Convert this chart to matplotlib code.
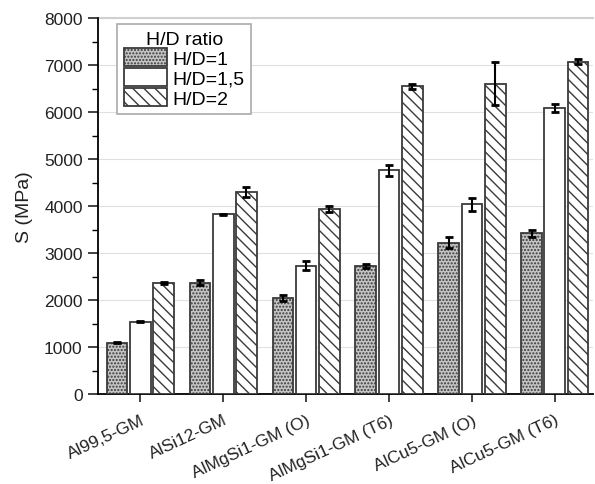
import matplotlib
matplotlib.use("Agg")
import matplotlib.pyplot as plt
import numpy as np

plt.rcParams['font.family'] = ['Liberation Sans', 'DejaVu Sans']

categories = ["Al99,5-GM", "AlSi12-GM", "AlMgSi1-GM (O)", "AlMgSi1-GM (T6)", "AlCu5-GM (O)", "AlCu5-GM (T6)"]
series_names = ["H/D=1", "H/D=1,5", "H/D=2"]
hd1 = [1090, 2370, 2040, 2720, 3220, 3420]
hd15 = [1540, 3820, 2730, 4760, 4040, 6080]
hd2 = [2370, 4300, 3940, 6550, 6600, 7070]
err1 = [15, 50, 60, 40, 110, 80]
err15 = [10, 20, 90, 120, 140, 80]
err2 = [20, 110, 60, 50, 460, 50]

fig = plt.figure(figsize=(5.95, 4.85), dpi=100)
ax = fig.add_axes([98/595, 1-395/485, (593-98)/595, (395-19)/485])

x = np.arange(len(categories))
w = 0.25
pitch = 0.28
styles = [
    dict(facecolor='#c4c4c4', hatch='.....'),
    dict(facecolor='white', hatch=None),
    dict(facecolor='white', hatch='\\\\\\'),
]
plt.rcParams['hatch.color'] = '#555555'
plt.rcParams['hatch.linewidth'] = 1.0
for i, (vals, errs, st, name) in enumerate(zip([hd1, hd15, hd2], [err1, err15, err2], styles, series_names)):
    ax.bar(x + (i - 1) * pitch, vals, width=w, edgecolor='#3a3a3a', linewidth=1.3,
           label=name, zorder=3, **st)
    ax.errorbar(x + (i - 1) * pitch, vals, yerr=errs, fmt='none', ecolor='black',
                elinewidth=1.5, capsize=3, capthick=2, zorder=4)

ax.set_ylim(0, 8000)
ax.set_xlim(-0.51, 5.46)
ax.set_yticks(np.arange(0, 8001, 1000))
ax.set_yticks(np.arange(500, 8000, 1000), minor=True)
ax.yaxis.grid(True, color='#e0e0e0', linewidth=0.8, zorder=0)
ax.set_axisbelow(True)
ax.set_xticks(x)
ax.set_xticklabels(categories, rotation=25, ha='right', rotation_mode='anchor', fontsize=12.5)
ax.tick_params(axis='y', labelsize=12.5, direction='out', length=7, width=1.2, pad=4, colors='#222222')
ax.tick_params(axis='y', which='minor', direction='out', length=4, width=1.0)
ax.tick_params(axis='x', direction='out', length=6, width=1.2, pad=7, colors='#222222')
ax.set_ylabel("S (MPa)", fontsize=14, labelpad=8, color='#222222')
for s in ['top', 'right']:
    ax.spines[s].set_visible(False)
ax.spines['left'].set_linewidth(1.3)
ax.spines['bottom'].set_linewidth(1.3)
ax.axhline(8000, color='#d0d0d0', linewidth=1.5, zorder=1, clip_on=False)

leg = ax.legend(title="H/D ratio", loc='upper left', bbox_to_anchor=(19/495, 1-6/376),
                fontsize=14, title_fontsize=14, handlelength=2.2, handleheight=1.1,
                labelspacing=0.0, handletextpad=0.3, borderpad=0.35, fancybox=False,
                framealpha=1, edgecolor='#aaaaaa', borderaxespad=0)
leg.get_frame().set_linewidth(1.2)

fig.savefig("out.png", dpi=100)
